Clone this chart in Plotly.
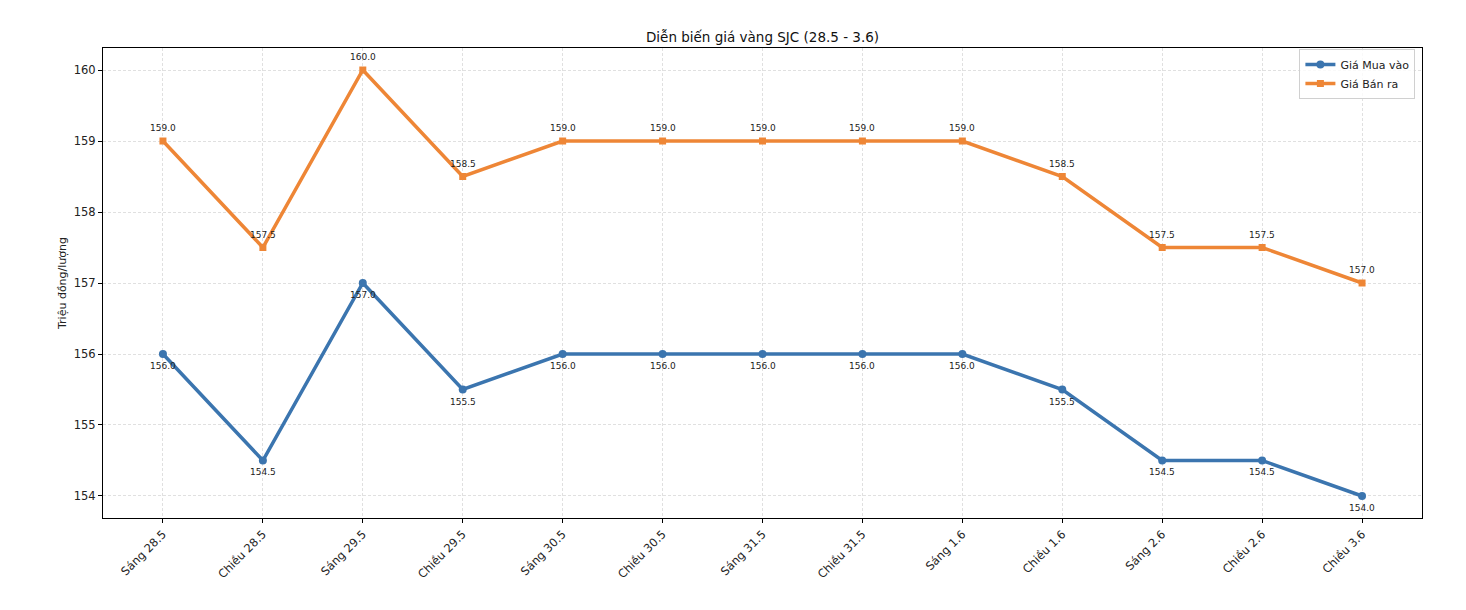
import plotly.graph_objects as go

categories = ["Sáng 28.5", "Chiều 28.5", "Sáng 29.5", "Chiều 29.5", "Sáng 30.5", "Chiều 30.5",
              "Sáng 31.5", "Chiều 31.5", "Sáng 1.6", "Chiều 1.6", "Sáng 2.6", "Chiều 2.6", "Chiều 3.6"]
buy = [156.0, 154.5, 157.0, 155.5, 156.0, 156.0, 156.0, 156.0, 156.0, 155.5, 154.5, 154.5, 154.0]
sell = [159.0, 157.5, 160.0, 158.5, 159.0, 159.0, 159.0, 159.0, 159.0, 158.5, 157.5, 157.5, 157.0]
y_ticks = [154, 155, 156, 157, 158, 159, 160]

BLUE = "#3b75af"
ORANGE = "#ee8636"
FONT = "DejaVu Sans"

x = list(range(len(categories)))

fig = go.Figure()
fig.add_trace(go.Scatter(
    x=x, y=buy, mode="lines+markers", name="Giá Mua vào",
    line=dict(color=BLUE, width=3.5), marker=dict(symbol="circle", size=8, color=BLUE),
))
fig.add_trace(go.Scatter(
    x=x, y=sell, mode="lines+markers", name="Giá Bán ra",
    line=dict(color=ORANGE, width=3.5), marker=dict(symbol="square", size=7, color=ORANGE),
))

annotations = []
for i, v in enumerate(sell):
    annotations.append(dict(x=i, y=v, text=f"{v:.1f}", showarrow=False, yshift=13,
                            font=dict(family=FONT, size=9, color="#222")))
for i, v in enumerate(buy):
    annotations.append(dict(x=i, y=v, text=f"{v:.1f}", showarrow=False, yshift=-12,
                            font=dict(family=FONT, size=9, color="#222")))

fig.update_layout(
    width=1466, height=610,
    margin=dict(l=103, r=44, t=48, b=92),
    paper_bgcolor="white", plot_bgcolor="white",
    font=dict(family=FONT, size=11, color="#222"),
    title=dict(text="Diễn biến giá vàng SJC (28.5 - 3.6)", x=0.5 * (103 + 1422) / 1466, xanchor="center",
               y=1 - 37 / 610, yanchor="middle", font=dict(family=FONT, size=13.5, color="#111")),
    showlegend=True,
    legend=dict(x=0.995, y=0.998, xanchor="right", yanchor="top", bgcolor="rgba(255,255,255,0.8)",
                bordercolor="#d0d0d0", borderwidth=1, font=dict(family=FONT, size=11, color="#222"),
                tracegroupgap=0, itemwidth=30),
    annotations=annotations,
)

fig.update_xaxes(
    range=[-0.6, 12.6], tickmode="array", tickvals=x, ticktext=categories, tickangle=-45,
    showgrid=True, gridcolor="#e0e0e0", griddash="3px,2px", gridwidth=1,
    showline=True, linecolor="black", linewidth=1, mirror=True,
    ticks="outside", ticklen=4, tickcolor="black", zeroline=False,
    tickfont=dict(family=FONT, size=11.5, color="#222"),
)
fig.update_yaxes(
    range=[153.69, 160.31], tickmode="array", tickvals=y_ticks,
    showgrid=True, gridcolor="#e0e0e0", griddash="3px,2px", gridwidth=1,
    showline=True, linecolor="black", linewidth=1, mirror=True,
    ticks="outside", ticklen=4, tickcolor="black", zeroline=False,
    title=dict(text="Triệu đồng/lượng", font=dict(family=FONT, size=11, color="#222"), standoff=4),
    tickfont=dict(family=FONT, size=11.5, color="#222"),
)

fig.write_html("out.html")
